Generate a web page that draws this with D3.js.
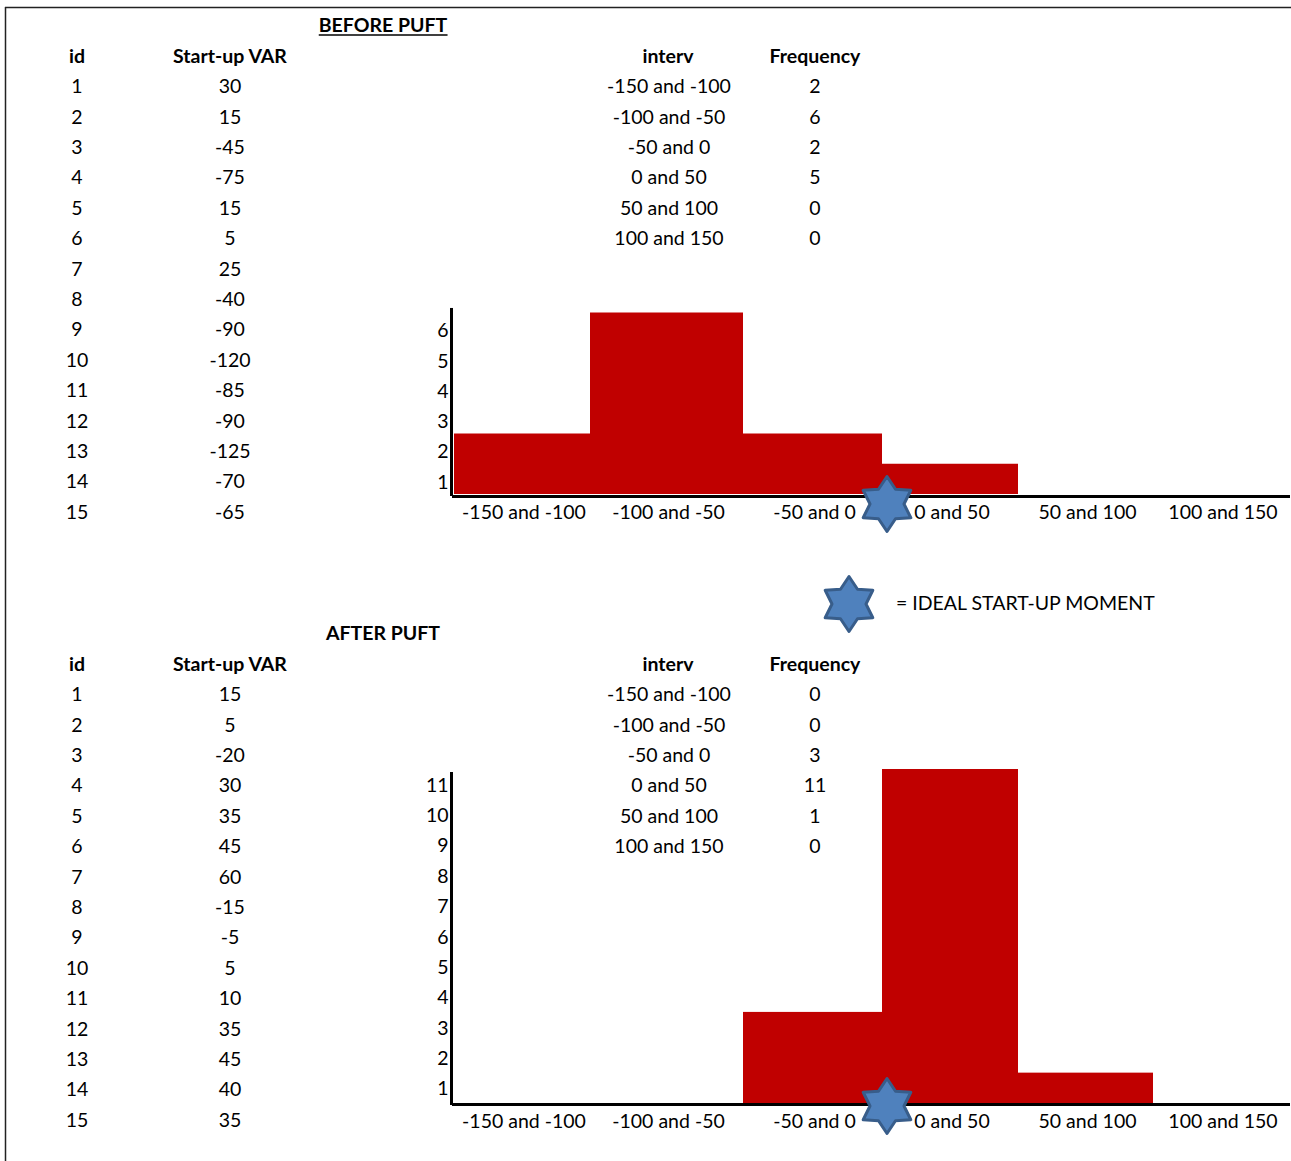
<!DOCTYPE html>
<html>
<head>
<meta charset="utf-8">
<script src="https://cdn.jsdelivr.net/npm/d3@7"></script>
<style>
  body { margin: 0; background: #fff; }
  svg text { font-family: Lato, "Open Sans", "Liberation Sans", sans-serif; fill: #000; }
</style>
</head>
<body>
<svg id="chart" width="1291" height="1161"></svg>
<script>
// ---- data ----
const ids = d3.range(1, 16);
const beforeVar = [30, 15, -45, -75, 15, 5, 25, -40, -90, -120, -85, -90, -125, -70, -65];
const afterVar = [15, 5, -20, 30, 35, 45, 60, -15, -5, 5, 10, 35, 45, 40, 35];
const intervals = ["-150 and -100", "-100 and -50", "-50 and 0", "0 and 50", "50 and 100", "100 and 150"];
const binEdges = [-150, -100, -50, 0, 50, 100, 150];
const beforeFreq = [2, 6, 2, 5, 0, 0];
const afterFreq = [0, 0, 3, 11, 1, 0];
// heights plotted in each histogram
const beforeBars = [2, 6, 2, 1, 0, 0];
const afterBars = [0, 0, 3, 11, 1, 0];
const beforeTicks = [1, 2, 3, 4, 5, 6];
const afterTicks = [1, 2, 3, 4, 5, 6, 7, 8, 9, 10, 11];
const idealMoment = 0;

const svg = d3.select("#chart");
const FS = 19.5;
const ROW = 30.4;

// page frame
svg.append("line").attr("x1", 5.5).attr("x2", 5.5).attr("y1", 7).attr("y2", 1161)
  .attr("stroke", "#222").attr("stroke-width", 1.5);
svg.append("line").attr("x1", 5).attr("x2", 1291).attr("y1", 7.5).attr("y2", 7.5)
  .attr("stroke", "#222").attr("stroke-width", 1.5);

// horizontal scale: bin edges to pixel positions
const x = d3.scaleLinear().domain(binEdges).range([454, 590, 743, 882, 1018, 1153, 1289]);

// six-pointed star path
function hexagram(R, r) {
  const pts = d3.range(12).map(i => {
    const a = -Math.PI / 2 + i * Math.PI / 6;
    const rad = i % 2 === 0 ? R : r;
    return [rad * Math.cos(a), rad * Math.sin(a)];
  });
  return d3.line()(pts) + "Z";
}
function star(g, cx, cy) {
  g.append("path").attr("d", hexagram(27.5, 17))
    .attr("transform", `translate(${cx},${cy})`)
    .attr("fill", "#4F81BD").attr("stroke", "#385D8A")
    .attr("stroke-width", 3).attr("stroke-linejoin", "round");
}

function section(cfg) {
  const g = svg.append("g");
  // title
  const t = g.append("text").attr("x", 383).attr("y", cfg.titleY).attr("dy", "0.35em")
    .attr("text-anchor", "middle").attr("font-size", FS).attr("font-weight", "bold")
    .text(cfg.title);
  if (cfg.underline) {
    const bb = t.node().getBBox();
    g.append("line").attr("x1", bb.x).attr("x2", bb.x + bb.width)
      .attr("y1", cfg.titleY + 10).attr("y2", cfg.titleY + 10)
      .attr("stroke", "#000").attr("stroke-width", 1.5);
  }
  // headers
  const hdr = [["id", 77], ["Start-up VAR", 230], ["interv", 668], ["Frequency", 815]];
  g.selectAll(null).data(hdr).join("text")
    .attr("x", d => d[1]).attr("y", cfg.headY).attr("dy", "0.35em")
    .attr("text-anchor", "middle").attr("font-size", FS).attr("font-weight", "bold")
    .text(d => d[0]);
  const rowY = i => cfg.headY + ROW * (i + 1);
  // raw values table
  g.selectAll(null).data(ids).join("text")
    .attr("x", 77).attr("y", (d, i) => rowY(i)).attr("dy", "0.35em")
    .attr("text-anchor", "middle").attr("font-size", FS).text(d => d);
  g.selectAll(null).data(cfg.values).join("text")
    .attr("x", 230).attr("y", (d, i) => rowY(i)).attr("dy", "0.35em")
    .attr("text-anchor", "middle").attr("font-size", FS).text(d => d);
  // frequency table
  g.selectAll(null).data(intervals).join("text")
    .attr("x", 669).attr("y", (d, i) => rowY(i)).attr("dy", "0.35em")
    .attr("text-anchor", "middle").attr("font-size", FS).text(d => d);
  g.selectAll(null).data(cfg.freq).join("text")
    .attr("x", 815).attr("y", (d, i) => rowY(i)).attr("dy", "0.35em")
    .attr("text-anchor", "middle").attr("font-size", FS).text(d => d);

  // histogram
  const y = d3.scaleLinear().domain([0, cfg.yMax]).range([cfg.base, cfg.yTop]);
  const bins = intervals.map((name, i) => ({ name, lo: binEdges[i], hi: binEdges[i + 1], v: cfg.bars[i] }));
  g.selectAll(null).data(bins.filter(d => d.v > 0)).join("rect")
    .attr("x", d => x(d.lo)).attr("width", d => x(d.hi) - x(d.lo))
    .attr("y", d => y(d.v)).attr("height", d => y(0) - y(d.v))
    .attr("fill", "#C00000");

  // vertical axis
  const ax = g.append("g").attr("transform", "translate(451.5,0)")
    .call(d3.axisLeft(y).tickValues(cfg.ticks).tickSize(0).tickPadding(3).tickFormat(d3.format("d")));
  ax.select(".domain").remove();
  ax.selectAll("text").attr("font-size", FS).attr("fill", "#000")
    .attr("font-family", "Lato, 'Open Sans', sans-serif")
    .attr("transform", `translate(0,${cfg.tickShift})`);
  g.append("line").attr("x1", 451.5).attr("x2", 451.5)
    .attr("y1", y(cfg.axisTop)).attr("y2", cfg.base + 2)
    .attr("stroke", "#000").attr("stroke-width", 3);

  // horizontal axis
  g.append("line").attr("x1", 452).attr("x2", 1290)
    .attr("y1", cfg.axisY).attr("y2", cfg.axisY)
    .attr("stroke", "#000").attr("stroke-width", 3);
  g.selectAll(null).data(bins).join("text")
    .attr("x", d => (x(d.lo) + x(d.hi)) / 2 + 2).attr("y", cfg.labelY).attr("dy", "0.35em")
    .attr("text-anchor", "middle").attr("font-size", FS).text(d => d.name);

  star(g, x(idealMoment) + 5, cfg.starY);
}

section({
  title: "BEFORE PUFT", underline: true, titleY: 25, headY: 56,
  values: beforeVar, freq: beforeFreq, bars: beforeBars, ticks: beforeTicks,
  yMax: 6, base: 494, yTop: 312.5, axisTop: 6.15, tickShift: 18,
  axisY: 496.5, labelY: 512, starY: 504
});
section({
  title: "AFTER PUFT", underline: false, titleY: 633, headY: 664,
  values: afterVar, freq: afterFreq, bars: afterBars, ticks: afterTicks,
  yMax: 11, base: 1103, yTop: 769, axisTop: 10.9, tickShift: 16,
  axisY: 1104.5, labelY: 1121, starY: 1106
});

// legend
const lg = svg.append("g");
star(lg, 849, 604);
lg.append("text").attr("x", 896).attr("y", 603).attr("dy", "0.35em")
  .attr("font-size", FS).text("= IDEAL START-UP MOMENT");
</script>
</body>
</html>
